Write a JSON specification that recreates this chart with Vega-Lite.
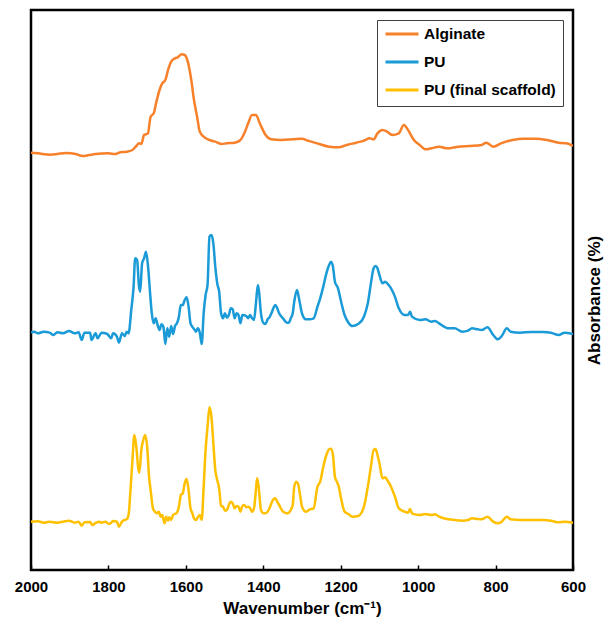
{
"$schema": "https://vega.github.io/schema/vega-lite/v6.json",
"width": 542, "height": 560,
"autosize": {"type": "none"},
"padding": {"left": 31, "top": 10, "right": 33, "bottom": 56},
"config": {"font": "Liberation Sans", "view": {"stroke": "black", "strokeWidth": 2.5}},
"data": {"values": [
{"series":"Alginate","wn":2000,"abs":1252},{"series":"Alginate","wn":1982,"abs":1250},{"series":"Alginate","wn":1950,"abs":1246},{"series":"Alginate","wn":1932,"abs":1248},{"series":"Alginate","wn":1910,"abs":1251},{"series":"Alginate","wn":1882,"abs":1247},{"series":"Alginate","wn":1867,"abs":1242},{"series":"Alginate","wn":1850,"abs":1245},{"series":"Alginate","wn":1833,"abs":1248},{"series":"Alginate","wn":1800,"abs":1250},{"series":"Alginate","wn":1783,"abs":1248},{"series":"Alginate","wn":1773,"abs":1252},{"series":"Alginate","wn":1753,"abs":1255},{"series":"Alginate","wn":1738,"abs":1260},{"series":"Alginate","wn":1728,"abs":1272},{"series":"Alginate","wn":1721,"abs":1280},{"series":"Alginate","wn":1715,"abs":1278},{"series":"Alginate","wn":1708,"abs":1305},{"series":"Alginate","wn":1698,"abs":1310},{"series":"Alginate","wn":1691,"abs":1360},{"series":"Alginate","wn":1683,"abs":1370},{"series":"Alginate","wn":1676,"abs":1405},{"series":"Alginate","wn":1668,"abs":1440},{"series":"Alginate","wn":1661,"abs":1460},{"series":"Alginate","wn":1653,"abs":1470},{"series":"Alginate","wn":1646,"abs":1500},{"series":"Alginate","wn":1638,"abs":1525},{"series":"Alginate","wn":1628,"abs":1535},{"series":"Alginate","wn":1621,"abs":1538},{"series":"Alginate","wn":1611,"abs":1547},{"series":"Alginate","wn":1603,"abs":1545},{"series":"Alginate","wn":1595,"abs":1525},{"series":"Alginate","wn":1586,"abs":1470},{"series":"Alginate","wn":1579,"abs":1410},{"series":"Alginate","wn":1571,"abs":1360},{"series":"Alginate","wn":1564,"abs":1315},{"series":"Alginate","wn":1554,"abs":1300},{"series":"Alginate","wn":1539,"abs":1290},{"series":"Alginate","wn":1524,"abs":1285},{"series":"Alginate","wn":1509,"abs":1278},{"series":"Alginate","wn":1494,"abs":1280},{"series":"Alginate","wn":1474,"abs":1282},{"series":"Alginate","wn":1459,"abs":1290},{"series":"Alginate","wn":1449,"abs":1310},{"series":"Alginate","wn":1439,"abs":1340},{"series":"Alginate","wn":1429,"abs":1365},{"series":"Alginate","wn":1419,"abs":1365},{"series":"Alginate","wn":1409,"abs":1340},{"series":"Alginate","wn":1394,"abs":1305},{"series":"Alginate","wn":1379,"abs":1292},{"series":"Alginate","wn":1354,"abs":1290},{"series":"Alginate","wn":1324,"abs":1292},{"series":"Alginate","wn":1300,"abs":1294},{"series":"Alginate","wn":1285,"abs":1288},{"series":"Alginate","wn":1255,"abs":1278},{"series":"Alginate","wn":1230,"abs":1270},{"series":"Alginate","wn":1205,"abs":1268},{"series":"Alginate","wn":1185,"abs":1275},{"series":"Alginate","wn":1160,"abs":1282},{"series":"Alginate","wn":1140,"abs":1288},{"series":"Alginate","wn":1125,"abs":1295},{"series":"Alginate","wn":1115,"abs":1292},{"series":"Alginate","wn":1105,"abs":1310},{"series":"Alginate","wn":1092,"abs":1320},{"series":"Alginate","wn":1080,"abs":1315},{"series":"Alginate","wn":1067,"abs":1305},{"series":"Alginate","wn":1050,"abs":1310},{"series":"Alginate","wn":1037,"abs":1335},{"series":"Alginate","wn":1026,"abs":1320},{"series":"Alginate","wn":1011,"abs":1290},{"series":"Alginate","wn":996,"abs":1275},{"series":"Alginate","wn":981,"abs":1262},{"series":"Alginate","wn":966,"abs":1265},{"series":"Alginate","wn":946,"abs":1270},{"series":"Alginate","wn":926,"abs":1265},{"series":"Alginate","wn":896,"abs":1270},{"series":"Alginate","wn":866,"abs":1272},{"series":"Alginate","wn":836,"abs":1275},{"series":"Alginate","wn":824,"abs":1282},{"series":"Alginate","wn":806,"abs":1270},{"series":"Alginate","wn":786,"abs":1280},{"series":"Alginate","wn":756,"abs":1290},{"series":"Alginate","wn":727,"abs":1294},{"series":"Alginate","wn":697,"abs":1294},{"series":"Alginate","wn":667,"abs":1290},{"series":"Alginate","wn":637,"abs":1282},{"series":"Alginate","wn":617,"abs":1280},{"series":"Alginate","wn":600,"abs":1272},
{"series":"PU","wn":2000,"abs":712},{"series":"PU","wn":1992,"abs":715},{"series":"PU","wn":1982,"abs":710},{"series":"PU","wn":1967,"abs":715},{"series":"PU","wn":1952,"abs":712},{"series":"PU","wn":1942,"abs":705},{"series":"PU","wn":1932,"abs":713},{"series":"PU","wn":1917,"abs":710},{"series":"PU","wn":1902,"abs":717},{"series":"PU","wn":1887,"abs":710},{"series":"PU","wn":1877,"abs":713},{"series":"PU","wn":1869,"abs":690},{"series":"PU","wn":1862,"abs":712},{"series":"PU","wn":1847,"abs":712},{"series":"PU","wn":1844,"abs":690},{"series":"PU","wn":1833,"abs":710},{"series":"PU","wn":1828,"abs":695},{"series":"PU","wn":1818,"abs":712},{"series":"PU","wn":1803,"abs":708},{"series":"PU","wn":1793,"abs":695},{"series":"PU","wn":1788,"abs":710},{"series":"PU","wn":1778,"abs":700},{"series":"PU","wn":1773,"abs":682},{"series":"PU","wn":1765,"abs":710},{"series":"PU","wn":1758,"abs":702},{"series":"PU","wn":1753,"abs":715},{"series":"PU","wn":1748,"abs":710},{"series":"PU","wn":1741,"abs":780},{"series":"PU","wn":1735,"abs":850},{"series":"PU","wn":1731,"abs":935},{"series":"PU","wn":1726,"abs":930},{"series":"PU","wn":1721,"abs":850},{"series":"PU","wn":1718,"abs":835},{"series":"PU","wn":1713,"abs":920},{"series":"PU","wn":1708,"abs":935},{"series":"PU","wn":1703,"abs":955},{"series":"PU","wn":1698,"abs":915},{"series":"PU","wn":1693,"abs":840},{"series":"PU","wn":1688,"abs":770},{"series":"PU","wn":1683,"abs":740},{"series":"PU","wn":1678,"abs":755},{"series":"PU","wn":1673,"abs":735},{"series":"PU","wn":1668,"abs":720},{"series":"PU","wn":1663,"abs":737},{"series":"PU","wn":1658,"abs":730},{"series":"PU","wn":1653,"abs":678},{"series":"PU","wn":1648,"abs":725},{"series":"PU","wn":1643,"abs":700},{"series":"PU","wn":1638,"abs":732},{"series":"PU","wn":1633,"abs":708},{"series":"PU","wn":1628,"abs":732},{"series":"PU","wn":1623,"abs":740},{"series":"PU","wn":1618,"abs":760},{"series":"PU","wn":1613,"abs":795},{"series":"PU","wn":1608,"abs":795},{"series":"PU","wn":1603,"abs":810},{"series":"PU","wn":1598,"abs":818},{"series":"PU","wn":1593,"abs":790},{"series":"PU","wn":1588,"abs":740},{"series":"PU","wn":1578,"abs":722},{"series":"PU","wn":1574,"abs":715},{"series":"PU","wn":1569,"abs":725},{"series":"PU","wn":1564,"abs":712},{"series":"PU","wn":1559,"abs":678},{"series":"PU","wn":1554,"abs":770},{"series":"PU","wn":1549,"abs":825},{"series":"PU","wn":1544,"abs":855},{"series":"PU","wn":1539,"abs":1000},{"series":"PU","wn":1534,"abs":1005},{"series":"PU","wn":1529,"abs":980},{"series":"PU","wn":1524,"abs":910},{"series":"PU","wn":1519,"abs":860},{"series":"PU","wn":1514,"abs":835},{"series":"PU","wn":1509,"abs":770},{"series":"PU","wn":1504,"abs":755},{"series":"PU","wn":1499,"abs":770},{"series":"PU","wn":1494,"abs":757},{"series":"PU","wn":1489,"abs":765},{"series":"PU","wn":1484,"abs":785},{"series":"PU","wn":1479,"abs":782},{"series":"PU","wn":1474,"abs":755},{"series":"PU","wn":1469,"abs":770},{"series":"PU","wn":1464,"abs":765},{"series":"PU","wn":1459,"abs":740},{"series":"PU","wn":1454,"abs":765},{"series":"PU","wn":1444,"abs":762},{"series":"PU","wn":1439,"abs":755},{"series":"PU","wn":1434,"abs":765},{"series":"PU","wn":1429,"abs":755},{"series":"PU","wn":1424,"abs":750},{"series":"PU","wn":1419,"abs":800},{"series":"PU","wn":1414,"abs":855},{"series":"PU","wn":1411,"abs":835},{"series":"PU","wn":1406,"abs":770},{"series":"PU","wn":1399,"abs":740},{"series":"PU","wn":1394,"abs":738},{"series":"PU","wn":1389,"abs":752},{"series":"PU","wn":1384,"abs":758},{"series":"PU","wn":1379,"abs":770},{"series":"PU","wn":1374,"abs":785},{"series":"PU","wn":1369,"abs":795},{"series":"PU","wn":1364,"abs":785},{"series":"PU","wn":1359,"abs":770},{"series":"PU","wn":1349,"abs":755},{"series":"PU","wn":1339,"abs":742},{"series":"PU","wn":1334,"abs":742},{"series":"PU","wn":1329,"abs":755},{"series":"PU","wn":1324,"abs":770},{"series":"PU","wn":1320,"abs":805},{"series":"PU","wn":1313,"abs":840},{"series":"PU","wn":1307,"abs":810},{"series":"PU","wn":1300,"abs":770},{"series":"PU","wn":1290,"abs":752},{"series":"PU","wn":1280,"abs":752},{"series":"PU","wn":1270,"abs":755},{"series":"PU","wn":1260,"abs":790},{"series":"PU","wn":1253,"abs":815},{"series":"PU","wn":1245,"abs":850},{"series":"PU","wn":1237,"abs":890},{"series":"PU","wn":1230,"abs":915},{"series":"PU","wn":1225,"abs":925},{"series":"PU","wn":1220,"abs":910},{"series":"PU","wn":1215,"abs":865},{"series":"PU","wn":1207,"abs":845},{"series":"PU","wn":1200,"abs":810},{"series":"PU","wn":1190,"abs":765},{"series":"PU","wn":1180,"abs":742},{"series":"PU","wn":1170,"abs":732},{"series":"PU","wn":1155,"abs":738},{"series":"PU","wn":1140,"abs":760},{"series":"PU","wn":1130,"abs":800},{"series":"PU","wn":1122,"abs":860},{"series":"PU","wn":1115,"abs":905},{"series":"PU","wn":1110,"abs":912},{"series":"PU","wn":1105,"abs":905},{"series":"PU","wn":1100,"abs":885},{"series":"PU","wn":1092,"abs":860},{"series":"PU","wn":1085,"abs":865},{"series":"PU","wn":1080,"abs":860},{"series":"PU","wn":1070,"abs":845},{"series":"PU","wn":1060,"abs":820},{"series":"PU","wn":1050,"abs":785},{"series":"PU","wn":1035,"abs":765},{"series":"PU","wn":1026,"abs":765},{"series":"PU","wn":1021,"abs":775},{"series":"PU","wn":1016,"abs":760},{"series":"PU","wn":996,"abs":750},{"series":"PU","wn":981,"abs":752},{"series":"PU","wn":966,"abs":745},{"series":"PU","wn":956,"abs":747},{"series":"PU","wn":946,"abs":740},{"series":"PU","wn":921,"abs":725},{"series":"PU","wn":906,"abs":725},{"series":"PU","wn":886,"abs":715},{"series":"PU","wn":871,"abs":718},{"series":"PU","wn":861,"abs":725},{"series":"PU","wn":846,"abs":722},{"series":"PU","wn":836,"abs":720},{"series":"PU","wn":821,"abs":728},{"series":"PU","wn":806,"abs":705},{"series":"PU","wn":794,"abs":692},{"series":"PU","wn":784,"abs":702},{"series":"PU","wn":771,"abs":725},{"series":"PU","wn":761,"abs":715},{"series":"PU","wn":737,"abs":712},{"series":"PU","wn":707,"abs":714},{"series":"PU","wn":677,"abs":714},{"series":"PU","wn":657,"abs":712},{"series":"PU","wn":637,"abs":705},{"series":"PU","wn":622,"abs":712},{"series":"PU","wn":600,"abs":708},
{"series":"PU (final scaffold)","wn":2000,"abs":145},{"series":"PU (final scaffold)","wn":1982,"abs":146},{"series":"PU (final scaffold)","wn":1967,"abs":142},{"series":"PU (final scaffold)","wn":1952,"abs":145},{"series":"PU (final scaffold)","wn":1932,"abs":142},{"series":"PU (final scaffold)","wn":1917,"abs":145},{"series":"PU (final scaffold)","wn":1902,"abs":148},{"series":"PU (final scaffold)","wn":1887,"abs":142},{"series":"PU (final scaffold)","wn":1877,"abs":145},{"series":"PU (final scaffold)","wn":1869,"abs":133},{"series":"PU (final scaffold)","wn":1862,"abs":143},{"series":"PU (final scaffold)","wn":1847,"abs":144},{"series":"PU (final scaffold)","wn":1842,"abs":135},{"series":"PU (final scaffold)","wn":1832,"abs":142},{"series":"PU (final scaffold)","wn":1823,"abs":145},{"series":"PU (final scaffold)","wn":1818,"abs":142},{"series":"PU (final scaffold)","wn":1808,"abs":145},{"series":"PU (final scaffold)","wn":1798,"abs":138},{"series":"PU (final scaffold)","wn":1793,"abs":142},{"series":"PU (final scaffold)","wn":1788,"abs":147},{"series":"PU (final scaffold)","wn":1778,"abs":145},{"series":"PU (final scaffold)","wn":1773,"abs":130},{"series":"PU (final scaffold)","wn":1765,"abs":145},{"series":"PU (final scaffold)","wn":1758,"abs":150},{"series":"PU (final scaffold)","wn":1753,"abs":152},{"series":"PU (final scaffold)","wn":1748,"abs":165},{"series":"PU (final scaffold)","wn":1743,"abs":240},{"series":"PU (final scaffold)","wn":1738,"abs":330},{"series":"PU (final scaffold)","wn":1733,"abs":405},{"series":"PU (final scaffold)","wn":1728,"abs":370},{"series":"PU (final scaffold)","wn":1723,"abs":305},{"series":"PU (final scaffold)","wn":1720,"abs":292},{"series":"PU (final scaffold)","wn":1715,"abs":360},{"series":"PU (final scaffold)","wn":1710,"abs":390},{"series":"PU (final scaffold)","wn":1705,"abs":405},{"series":"PU (final scaffold)","wn":1700,"abs":370},{"series":"PU (final scaffold)","wn":1695,"abs":280},{"series":"PU (final scaffold)","wn":1690,"abs":230},{"series":"PU (final scaffold)","wn":1685,"abs":185},{"series":"PU (final scaffold)","wn":1680,"abs":175},{"series":"PU (final scaffold)","wn":1675,"abs":170},{"series":"PU (final scaffold)","wn":1670,"abs":175},{"series":"PU (final scaffold)","wn":1665,"abs":160},{"series":"PU (final scaffold)","wn":1661,"abs":165},{"series":"PU (final scaffold)","wn":1655,"abs":140},{"series":"PU (final scaffold)","wn":1651,"abs":160},{"series":"PU (final scaffold)","wn":1646,"abs":148},{"series":"PU (final scaffold)","wn":1643,"abs":158},{"series":"PU (final scaffold)","wn":1638,"abs":150},{"series":"PU (final scaffold)","wn":1633,"abs":165},{"series":"PU (final scaffold)","wn":1623,"abs":172},{"series":"PU (final scaffold)","wn":1618,"abs":190},{"series":"PU (final scaffold)","wn":1613,"abs":225},{"series":"PU (final scaffold)","wn":1608,"abs":230},{"series":"PU (final scaffold)","wn":1603,"abs":260},{"series":"PU (final scaffold)","wn":1598,"abs":273},{"series":"PU (final scaffold)","wn":1593,"abs":240},{"series":"PU (final scaffold)","wn":1588,"abs":185},{"series":"PU (final scaffold)","wn":1583,"abs":170},{"series":"PU (final scaffold)","wn":1579,"abs":155},{"series":"PU (final scaffold)","wn":1574,"abs":150},{"series":"PU (final scaffold)","wn":1569,"abs":158},{"series":"PU (final scaffold)","wn":1564,"abs":165},{"series":"PU (final scaffold)","wn":1559,"abs":150},{"series":"PU (final scaffold)","wn":1554,"abs":250},{"series":"PU (final scaffold)","wn":1549,"abs":360},{"series":"PU (final scaffold)","wn":1544,"abs":430},{"series":"PU (final scaffold)","wn":1539,"abs":488},{"series":"PU (final scaffold)","wn":1534,"abs":460},{"series":"PU (final scaffold)","wn":1529,"abs":380},{"series":"PU (final scaffold)","wn":1524,"abs":300},{"series":"PU (final scaffold)","wn":1519,"abs":270},{"series":"PU (final scaffold)","wn":1514,"abs":245},{"series":"PU (final scaffold)","wn":1509,"abs":192},{"series":"PU (final scaffold)","wn":1504,"abs":190},{"series":"PU (final scaffold)","wn":1499,"abs":178},{"series":"PU (final scaffold)","wn":1494,"abs":180},{"series":"PU (final scaffold)","wn":1489,"abs":195},{"series":"PU (final scaffold)","wn":1484,"abs":205},{"series":"PU (final scaffold)","wn":1479,"abs":200},{"series":"PU (final scaffold)","wn":1474,"abs":185},{"series":"PU (final scaffold)","wn":1469,"abs":192},{"series":"PU (final scaffold)","wn":1464,"abs":190},{"series":"PU (final scaffold)","wn":1459,"abs":175},{"series":"PU (final scaffold)","wn":1454,"abs":192},{"series":"PU (final scaffold)","wn":1449,"abs":195},{"series":"PU (final scaffold)","wn":1444,"abs":188},{"series":"PU (final scaffold)","wn":1439,"abs":190},{"series":"PU (final scaffold)","wn":1434,"abs":185},{"series":"PU (final scaffold)","wn":1429,"abs":175},{"series":"PU (final scaffold)","wn":1424,"abs":185},{"series":"PU (final scaffold)","wn":1419,"abs":240},{"series":"PU (final scaffold)","wn":1416,"abs":275},{"series":"PU (final scaffold)","wn":1412,"abs":250},{"series":"PU (final scaffold)","wn":1406,"abs":180},{"series":"PU (final scaffold)","wn":1399,"abs":170},{"series":"PU (final scaffold)","wn":1394,"abs":170},{"series":"PU (final scaffold)","wn":1389,"abs":175},{"series":"PU (final scaffold)","wn":1384,"abs":185},{"series":"PU (final scaffold)","wn":1379,"abs":200},{"series":"PU (final scaffold)","wn":1374,"abs":212},{"series":"PU (final scaffold)","wn":1369,"abs":215},{"series":"PU (final scaffold)","wn":1364,"abs":205},{"series":"PU (final scaffold)","wn":1359,"abs":195},{"series":"PU (final scaffold)","wn":1349,"abs":175},{"series":"PU (final scaffold)","wn":1339,"abs":170},{"series":"PU (final scaffold)","wn":1334,"abs":172},{"series":"PU (final scaffold)","wn":1329,"abs":180},{"series":"PU (final scaffold)","wn":1324,"abs":195},{"series":"PU (final scaffold)","wn":1320,"abs":250},{"series":"PU (final scaffold)","wn":1315,"abs":265},{"series":"PU (final scaffold)","wn":1310,"abs":258},{"series":"PU (final scaffold)","wn":1305,"abs":225},{"series":"PU (final scaffold)","wn":1300,"abs":190},{"series":"PU (final scaffold)","wn":1290,"abs":175},{"series":"PU (final scaffold)","wn":1280,"abs":182},{"series":"PU (final scaffold)","wn":1270,"abs":185},{"series":"PU (final scaffold)","wn":1260,"abs":250},{"series":"PU (final scaffold)","wn":1253,"abs":265},{"series":"PU (final scaffold)","wn":1245,"abs":310},{"series":"PU (final scaffold)","wn":1237,"abs":345},{"series":"PU (final scaffold)","wn":1230,"abs":362},{"series":"PU (final scaffold)","wn":1225,"abs":364},{"series":"PU (final scaffold)","wn":1220,"abs":345},{"series":"PU (final scaffold)","wn":1215,"abs":280},{"series":"PU (final scaffold)","wn":1210,"abs":265},{"series":"PU (final scaffold)","wn":1205,"abs":250},{"series":"PU (final scaffold)","wn":1200,"abs":220},{"series":"PU (final scaffold)","wn":1190,"abs":175},{"series":"PU (final scaffold)","wn":1180,"abs":168},{"series":"PU (final scaffold)","wn":1170,"abs":160},{"series":"PU (final scaffold)","wn":1155,"abs":162},{"series":"PU (final scaffold)","wn":1140,"abs":190},{"series":"PU (final scaffold)","wn":1130,"abs":250},{"series":"PU (final scaffold)","wn":1122,"abs":310},{"series":"PU (final scaffold)","wn":1115,"abs":360},{"series":"PU (final scaffold)","wn":1110,"abs":363},{"series":"PU (final scaffold)","wn":1105,"abs":345},{"series":"PU (final scaffold)","wn":1100,"abs":320},{"series":"PU (final scaffold)","wn":1092,"abs":275},{"series":"PU (final scaffold)","wn":1085,"abs":278},{"series":"PU (final scaffold)","wn":1080,"abs":270},{"series":"PU (final scaffold)","wn":1070,"abs":250},{"series":"PU (final scaffold)","wn":1060,"abs":220},{"series":"PU (final scaffold)","wn":1050,"abs":185},{"series":"PU (final scaffold)","wn":1035,"abs":175},{"series":"PU (final scaffold)","wn":1026,"abs":172},{"series":"PU (final scaffold)","wn":1021,"abs":183},{"series":"PU (final scaffold)","wn":1016,"abs":170},{"series":"PU (final scaffold)","wn":996,"abs":165},{"series":"PU (final scaffold)","wn":981,"abs":168},{"series":"PU (final scaffold)","wn":966,"abs":165},{"series":"PU (final scaffold)","wn":956,"abs":167},{"series":"PU (final scaffold)","wn":946,"abs":160},{"series":"PU (final scaffold)","wn":921,"abs":152},{"series":"PU (final scaffold)","wn":906,"abs":150},{"series":"PU (final scaffold)","wn":886,"abs":148},{"series":"PU (final scaffold)","wn":871,"abs":150},{"series":"PU (final scaffold)","wn":861,"abs":155},{"series":"PU (final scaffold)","wn":846,"abs":153},{"series":"PU (final scaffold)","wn":836,"abs":152},{"series":"PU (final scaffold)","wn":821,"abs":160},{"series":"PU (final scaffold)","wn":806,"abs":145},{"series":"PU (final scaffold)","wn":794,"abs":140},{"series":"PU (final scaffold)","wn":784,"abs":145},{"series":"PU (final scaffold)","wn":771,"abs":160},{"series":"PU (final scaffold)","wn":761,"abs":152},{"series":"PU (final scaffold)","wn":737,"abs":150},{"series":"PU (final scaffold)","wn":707,"abs":150},{"series":"PU (final scaffold)","wn":677,"abs":150},{"series":"PU (final scaffold)","wn":657,"abs":148},{"series":"PU (final scaffold)","wn":637,"abs":143},{"series":"PU (final scaffold)","wn":622,"abs":145},{"series":"PU (final scaffold)","wn":600,"abs":142}
]},
"mark": {"type": "line", "strokeWidth": 2.5, "interpolate": "monotone", "clip": true},
"encoding": {
  "x": {"field": "wn", "type": "quantitative",
    "scale": {"domain": [600, 2000], "reverse": true, "nice": false, "zero": false},
    "axis": {"values": [2000, 1800, 1600, 1400, 1200, 1000, 800, 600], "format": "d", "grid": false, "domain": false,
      "tickSize": -5, "tickColor": "black", "tickWidth": 1.5, "labelPadding": 14,
      "labelFontSize": 15, "labelFontWeight": "bold", "labelColor": "black", "labelFlush": false,
      "title": "Wavenumber (cm⁻¹)", "titleFontSize": 17, "titleFontWeight": "bold", "titleColor": "black", "titlePadding": 6}},
  "y": {"field": "abs", "type": "quantitative",
    "scale": {"domain": [0, 1680], "nice": false, "zero": false},
    "axis": {"orient": "right", "labels": false, "ticks": false, "domain": false, "grid": false,
      "title": "Absorbance (%)", "titleAngle": 270, "titleX": 21, "titleY": 290, "titleAlign": "center", "titleBaseline": "middle",
      "titleFontSize": 17, "titleFontWeight": "bold", "titleColor": "black"}},
  "color": {"field": "series", "type": "nominal",
    "scale": {"domain": ["Alginate", "PU", "PU (final scaffold)"], "range": ["#F7812B", "#1A9AD7", "#FFC000"]},
    "legend": {"orient": "none", "legendX": 346, "legendY": 10, "title": null, "direction": "vertical",
      "strokeColor": "#404040", "fillColor": "white", "padding": 7,
      "symbolType": "stroke", "symbolSize": 1089, "symbolStrokeWidth": 3,
      "clipHeight": 14, "rowPadding": 12, "labelOffset": 4,
      "labelFontSize": 15.5, "labelFontWeight": "bold", "labelColor": "black"}}
}
}
